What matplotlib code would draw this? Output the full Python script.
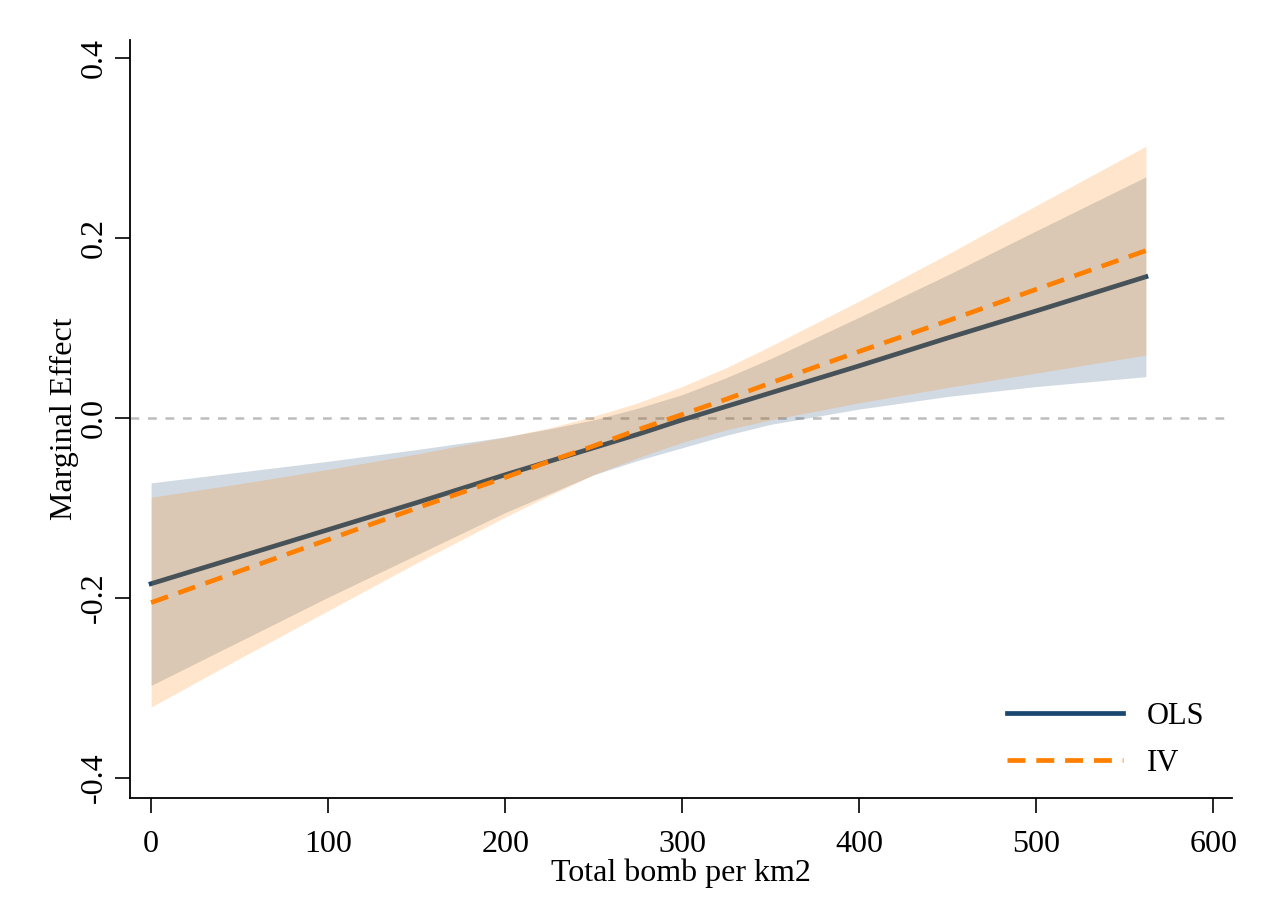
import numpy as np
import matplotlib
matplotlib.use("Agg")
import matplotlib.pyplot as plt

# values
bomb = [0, 50, 100, 150, 200, 225, 250, 275, 300, 325, 350, 400, 450, 500, 562]

ols_me = [-0.184, -0.154, -0.124, -0.094, -0.063, -0.048, -0.033, -0.018, -0.002, 0.013, 0.028, 0.058, 0.089, 0.119, 0.157]
ols_lo = [-0.297, -0.248, -0.199, -0.152, -0.105, -0.084, -0.063, -0.047, -0.033, -0.019, -0.007, 0.010, 0.024, 0.035, 0.046]
ols_hi = [-0.072, -0.060, -0.048, -0.035, -0.021, -0.012, -0.002, 0.011, 0.026, 0.045, 0.066, 0.112, 0.159, 0.208, 0.268]

iv_me = [-0.205, -0.170, -0.135, -0.100, -0.066, -0.048, -0.031, -0.013, 0.004, 0.021, 0.039, 0.074, 0.108, 0.143, 0.186]
iv_lo = [-0.321, -0.267, -0.214, -0.161, -0.110, -0.086, -0.063, -0.044, -0.027, -0.013, -0.002, 0.017, 0.034, 0.050, 0.070]
iv_hi = [-0.088, -0.073, -0.057, -0.040, -0.021, -0.011, 0.002, 0.017, 0.035, 0.056, 0.080, 0.130, 0.182, 0.236, 0.302]

xticks = [0, 100, 200, 300, 400, 500, 600]
yticks = [-0.4, -0.2, 0.0, 0.2, 0.4]

navy = "#1a476f"
orange = "#ff8000"

plt.rcParams["font.family"] = ["Liberation Serif", "DejaVu Serif"]

fig = plt.figure(figsize=(12.65, 9.19), dpi=100)
ax = fig.add_axes([0.1028, 0.1317, 0.8712, 0.8248])

ax.axhline(0, color="#bdbdbd", lw=1.8, dashes=(3.5, 3.5), zorder=1)

ax.fill_between(bomb, ols_lo, ols_hi, color=navy, alpha=0.2, lw=0, zorder=2)
ax.plot(bomb, ols_me, color=navy, lw=3.4, label="OLS", zorder=3)
ax.fill_between(bomb, iv_lo, iv_hi, color=orange, alpha=0.2, lw=0, zorder=4)
ax.plot(bomb, iv_me, color=orange, lw=3.4, dashes=(3.8, 2.3), label="IV", zorder=5)

ax.set_xlim(-11.9, 610.7)
ax.set_ylim(-0.422, 0.42)
ax.set_xticks(xticks)
ax.set_yticks(yticks)
ax.set_yticklabels([f"{v:.1f}" for v in yticks], rotation=90, va="center")
ax.tick_params(axis="both", labelsize=23, length=11, width=1.2, direction="out")
ax.tick_params(axis="x", pad=12)
ax.tick_params(axis="y", pad=4)

for s in ["top", "right"]:
    ax.spines[s].set_visible(False)
for s in ["left", "bottom"]:
    ax.spines[s].set_linewidth(1.3)

ax.set_xlabel("Total bomb per km2", fontsize=23, labelpad=0)
ax.set_ylabel("Marginal Effect", fontsize=23, labelpad=1)

ax.legend(loc="lower right", frameon=False, fontsize=22, handlelength=3.8,
          handletextpad=0.8, labelspacing=0.6, bbox_to_anchor=(1.0, -0.01))

fig.savefig("out.png", dpi=100)
